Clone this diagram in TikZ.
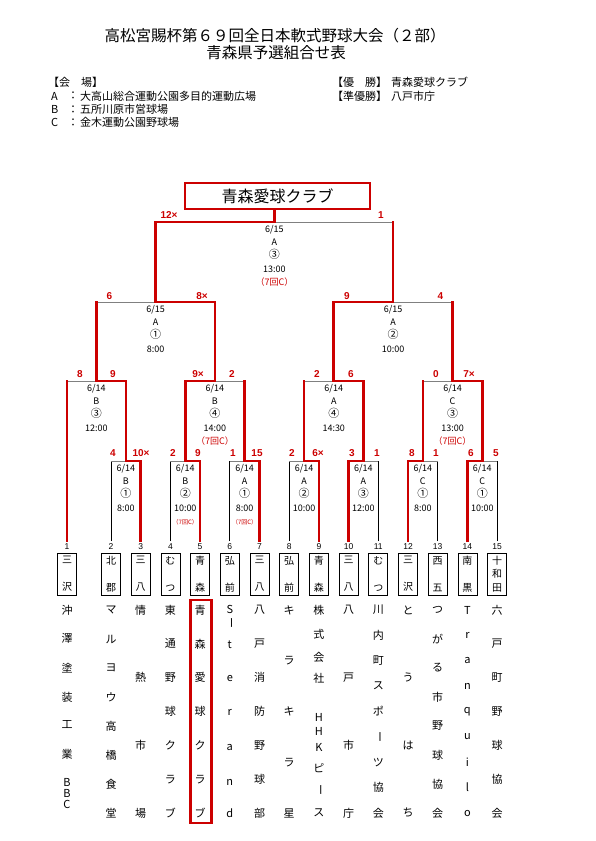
\documentclass[tikz,border=0pt]{standalone}
\usepackage{fontspec}
\setmainfont{Noto Sans CJK JP}
\newfontfamily\scorefont{Liberation Sans}
\usepackage{graphicx}
\usepackage{tikz}
\usetikzlibrary{calc,positioning}
\definecolor{tred}{RGB}{204,0,0}
\definecolor{lgray}{RGB}{128,128,128}
\newcommand{\vbar}{\rotatebox{-90}{ー}}
\newcommand{\cnum}[1]{{\fontsize{11}{13.3}\selectfont #1}}

\begin{document}
\begin{tikzpicture}[x=1pt,y=-1pt,
    win/.style={draw=tred,line width=2.6pt,line cap=rect},
    lose/.style={draw=lgray,line width=0.9pt},
    first/.style={draw=black,line width=0.7pt},
    score/.style={text=tred,font=\scorefont\bfseries\fontsize{10}{10}\selectfont,inner sep=0pt},
    info/.style={font=\fontsize{9}{13.3}\selectfont,align=center,anchor=north,inner sep=0pt},
    tbox/.style={draw,line width=0.7pt,minimum width=19pt,minimum height=42pt,inner sep=0pt,
        align=center,font=\fontsize{10}{27}\selectfont},
    num/.style={font=\scorefont\fontsize{8.5}{8.5}\selectfont,inner sep=0pt},
    legend/.style={anchor=west,inner sep=0pt,font=\fontsize{11}{11}\selectfont},
    tname/.style={inner sep=0pt,font=\fontsize{11}{11}\selectfont},
    champ/.style={draw=tred,line width=2.6pt,minimum width=185pt,minimum height=26pt,
        inner sep=0pt,font=\fontsize{16}{16}\selectfont}]
    \useasboundingbox (0,0) rectangle (595,841);

    % title and legend
    \node (title) at (275,36) {\fontsize{15.5}{15.5}\selectfont 高松宮賜杯第６９回全日本軟式野球大会（２部）};
    \node (subtitle) at (276,53) {\fontsize{15.5}{15.5}\selectfont 青森県予選組合せ表};
    \node[legend] (venue) at (48,82.5) {【会　場】};
    \foreach \k/\y/\t in {A/96/大高山総合運動公園多目的運動広場,B/109.5/五所川原市営球場,C/122.5/金木運動公園野球場} {
        \node[legend] (v\k) at (51,\y) {\k};
        \node[legend] (c\k) at (67.5,\y) {：};
        \node[legend] (p\k) at (80,\y) {\t};
    }
    \node[legend] (first) at (332,82) {【優　勝】};
    \node[legend] (firstn) at (391,82) {青森愛球クラブ};
    \node[legend] (second) at (332,96) {【準優勝】};
    \node[legend] (secondn) at (391,96) {八戸市庁};

    % teams
    \foreach \i/\x in {1/67,2/111,3/140.7,4/170.4,5/200.1,6/229.8,7/259.5,8/289.2,
            9/318.9,10/348.6,11/378.3,12/408,13/437.7,14/467.4,15/497.1} {
        \coordinate (t\i) at (\x,541);
        \node[num] (n\i) at (\x,547) {\i};
    }
    \foreach \i/\a/\b in {1/三/沢,2/北/郡,3/三/八,4/む/つ,5/青/森,6/弘/前,7/三/八,
            8/弘/前,9/青/森,10/三/八,11/む/つ,12/三/沢,13/西/五,14/南/黒}
        \node[tbox] (b\i) at (t\i |- 0,574) {\a\\\b};
    \node[tbox,font=\fontsize{10}{13.5}\selectfont] (b15) at (t15 |- 0,574) {十\\和\\田};

    % team names, spread down the column
    \foreach \i/\n/\s in {2/8/{マ,ル,ヨ,ウ,高,橋,食,堂},3/4/{情,熱,市,場},
            4/7/{東,通,野,球,ク,ラ,ブ},5/7/{青,森,愛,球,ク,ラ,ブ},
            7/7/{八,戸,消,防,野,球,部},8/5/{キ,ラ,キ,ラ,星},10/4/{八,戸,市,庁},
            11/9/{川,内,町,ス,ポ,\vbar,ツ,協,会},12/4/{と,う,は,ち},
            13/8/{つ,が,る,市,野,球,協,会},14/9/{T,r,a,n,q,u,i,l,o},
            15/7/{六,戸,町,野,球,協,会}}
        \foreach \c [count=\k] in \s
            \node[tname] (nm\i-\k) at ($(t\i)+(0,{69+(\k-1)*203/(\n-1)})$) {\c};
    \foreach \c/\y [count=\k] in {沖/610,澤/638,塗/668,装/697,工/725,業/754,B/782,B/793,C/804}
        \node[tname] (nm1-\k) at (t1 |- 0,\y) {\c};
    \foreach \c/\y [count=\k] in {S/609,\vbar/623,t/645,e/678,r/712,a/747,n/782,d/813}
        \node[tname] (nm6-\k) at (t6 |- 0,\y) {\c};
    \foreach \c/\y [count=\k] in {株/610,式/634,会/657,社/678,H/717,H/731,K/747,ピ/768,\vbar/790,ス/813}
        \node[tname] (nm9-\k) at (t9 |- 0,\y) {\c};
    \draw[tred,line width=2.4pt] (190.5,600) rectangle (211.5,823);

    % bracket points
    \coordinate (r2) at (125.85,461);
    \coordinate (r4) at (185.25,461);
    \coordinate (r6) at (244.65,461);
    \coordinate (r8) at (304.05,461);
    \coordinate (r10) at (363.45,461);
    \coordinate (r12) at (422.85,461);
    \coordinate (r14) at (482.25,461);
    \coordinate (q1) at (96.4,381);
    \coordinate (q2) at (214.95,381);
    \coordinate (q3) at (333.75,381);
    \coordinate (q4) at (452.55,381);
    \coordinate (s1) at (155.7,302);
    \coordinate (s2) at (393.15,302);
    \coordinate (f) at (274.4,222);
    \node[champ] (champ) at (277.5,196) {青森愛球クラブ};

    % first round
    \foreach \a/\m in {2/r2,4/r4,6/r6,8/r8,11/r10,13/r12,15/r14} {
        \draw[first] (t\a) -- (t\a |- \m);
        \draw[lose] (t\a |- \m) -- (\m);
    }
    \foreach \a/\m in {3/r2,5/r4,7/r6,9/r8,10/r10,12/r12,14/r14}
        \draw[win] (t\a) |- (\m);
    % later rounds: winner / loser / match
    \foreach \w/\l/\m in {r2/t1/q1,r4/r6/q2,r10/r8/q3,r14/r12/q4,q2/q1/s1,q3/q4/s2,s1/s2/f} {
        \draw[lose] (\l |- \m) -- (\m);
        \draw[win] (\l) -- (\l |- \m);
        \draw[win] (\w) |- (\m);
    }
    \draw[win] (f) -- (f |- champ.south);

    % scores
    \foreach \nm/\x/\y/\s in {fl/169/215/12×,fr/381/215/1,s1l/109.5/296/6,s1r/202/296/8×,
            s2l/347/296/9,s2r/440.5/296/4,q1l/80/374/8,q1r/113/374/9,q2l/198/374/9×,
            q2r/232/374/2,q3l/317/374/2,q3r/351/374/6,q4l/436/374/0,q4r/469/374/7×,
            r2l/113/453/4,r2r/141/453/10×,r4l/173/453/2,r4r/198/453/9,r6l/233/453/1,
            r6r/257/453/15,r8l/292/453/2,r8r/318/453/6×,r10l/352/453/3,r10r/377/453/1,
            r12l/412/453/8,r12r/436/453/1,r14l/471/453/6,r14r/496/453/5}
        \node[score] (sc-\nm) at (\x,\y) {\s};

    % match info
    \node[info] (inf-f) at ($(f)+(0,3)$) {6/15\\A\\\cnum{③}\\13:00\\\textcolor{tred}{（7回C）}};
    \node[info] (inf-s1) at ($(s1)+(0,3)$) {6/15\\A\\\cnum{①}\\8:00};
    \node[info] (inf-s2) at ($(s2)+(0,3)$) {6/15\\A\\\cnum{②}\\10:00};
    \node[info] (inf-q1) at ($(q1)+(0,3)$) {6/14\\B\\\cnum{③}\\12:00};
    \node[info] (inf-q2) at ($(q2)+(0,3)$) {6/14\\B\\\cnum{④}\\14:00\\\textcolor{tred}{（7回C）}};
    \node[info] (inf-q3) at ($(q3)+(0,3)$) {6/14\\A\\\cnum{④}\\14:30};
    \node[info] (inf-q4) at ($(q4)+(0,3)$) {6/14\\C\\\cnum{③}\\13:00\\\textcolor{tred}{（7回C）}};
    \node[info] (inf-r2) at ($(r2)+(0,3)$) {6/14\\B\\\cnum{①}\\8:00};
    \node[info] (inf-r4) at ($(r4)+(0,3)$) {6/14\\B\\\cnum{②}\\10:00\\{\fontsize{6}{6}\selectfont\textcolor{tred}{（7回C）}}};
    \node[info] (inf-r6) at ($(r6)+(0,3)$) {6/14\\A\\\cnum{①}\\8:00\\{\fontsize{6}{6}\selectfont\textcolor{tred}{（7回C）}}};
    \node[info] (inf-r8) at ($(r8)+(0,3)$) {6/14\\A\\\cnum{②}\\10:00};
    \node[info] (inf-r10) at ($(r10)+(0,3)$) {6/14\\A\\\cnum{③}\\12:00};
    \node[info] (inf-r12) at ($(r12)+(0,3)$) {6/14\\C\\\cnum{①}\\8:00};
    \node[info] (inf-r14) at ($(r14)+(0,3)$) {6/14\\C\\\cnum{①}\\10:00};
\end{tikzpicture}
\end{document}
